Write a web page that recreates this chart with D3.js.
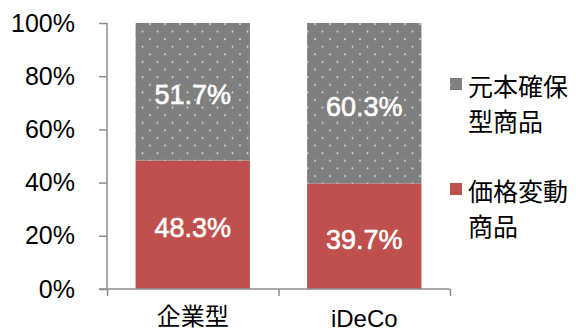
<!DOCTYPE html>
<html>
<head>
<meta charset="utf-8">
<script src="https://cdn.jsdelivr.net/npm/d3@7"></script>
<style>
  html, body { margin: 0; padding: 0; background: #fff; }
  svg { display: block; }
</style>
</head>
<body>
<svg id="chart" width="576" height="331"></svg>
<script>
// Share of assets by product type (percent)
const categories = ["企業型", "iDeCo"];
const principalGuaranteed = [51.7, 60.3]; // 元本確保型商品
const priceFluctuating = [48.3, 39.7];    // 価格変動商品
const yTicks = [0, 20, 40, 60, 80, 100];
const legendLabels = [["元本確保", "型商品"], ["価格変動", "商品"]];

const svg = d3.select("#chart");
const numFont = "'Liberation Sans', Arial, sans-serif";
const jpFont = "'Noto Sans CJK JP', 'Noto Sans', sans-serif";
const axisColor = "#8c8c8c";
const grayFill = "#7f7f7f";
const redFill = "#c0504d";

// Dotted fill used for the principal-guaranteed segment
const defs = svg.append("defs");
const pat = defs.append("pattern")
  .attr("id", "dots")
  .attr("patternUnits", "userSpaceOnUse")
  .attr("width", 15).attr("height", 15.2);
pat.append("rect").attr("width", 15).attr("height", 15.2).attr("fill", grayFill);
[[7.5, 1.2], [0, 8.8], [15, 8.8]].forEach(([cx, cy]) =>
  pat.append("circle").attr("cx", cx).attr("cy", cy).attr("r", 0.9).attr("fill", "#e0e0e0"));

const y = d3.scaleLinear().domain([0, 100]).range([289, 23]);
const x = d3.scaleBand().domain(categories).range([107, 450])
  .paddingInner(1 / 3).paddingOuter(1 / 6);

// Stack: price-fluctuating at the bottom, principal-guaranteed on top
const rows = categories.map((c, i) => ({
  cat: c,
  red: priceFluctuating[i],
  gray: principalGuaranteed[i]
}));
const stack = d3.stack().keys(["red", "gray"])(rows);

const fills = { red: redFill, gray: "url(#dots)" };
stack.forEach(layer => {
  svg.append("g").selectAll("rect")
    .data(layer)
    .join("rect")
    .attr("x", d => x(d.data.cat))
    .attr("width", x.bandwidth())
    .attr("y", d => y(d[1]))
    .attr("height", d => y(d[0]) - y(d[1]))
    .attr("fill", fills[layer.key]);

  svg.append("g").selectAll("text")
    .data(layer)
    .join("text")
    .attr("x", d => x(d.data.cat) + x.bandwidth() / 2)
    .attr("y", d => (y(d[0]) + y(d[1])) / 2 + 3)
    .attr("dy", "0.35em")
    .attr("text-anchor", "middle")
    .attr("fill", "#fff")
    .attr("stroke", "#fff")
    .attr("stroke-width", 0.6)
    .attr("font-family", numFont)
    .attr("font-size", 27)
    .text(d => d3.format(".1f")(d[1] - d[0]) + "%");
});

// Y axis
const yAxis = svg.append("g")
  .attr("transform", "translate(107,0)")
  .call(d3.axisLeft(y).tickValues(yTicks).tickSize(8).tickPadding(24)
    .tickFormat(d => d + "%"));
yAxis.select(".domain").attr("stroke", axisColor).attr("stroke-width", 1.5)
  .attr("d", `M0,${y(100)}V${y(0)}`);
yAxis.selectAll(".tick line").attr("stroke", axisColor).attr("stroke-width", 1.5);
yAxis.selectAll(".tick text")
  .attr("font-family", numFont).attr("font-size", 25).attr("fill", "#000");

// X axis with ticks at the category boundaries
const xb = d3.scaleLinear().domain([0, categories.length]).range([107, 450]);
const xAxis = svg.append("g")
  .attr("transform", `translate(0,${y(0)})`)
  .call(d3.axisBottom(xb).ticks(categories.length).tickSize(7).tickFormat(""));
xAxis.select(".domain").attr("stroke", axisColor).attr("stroke-width", 1.5)
  .attr("d", `M99,0H450`);
xAxis.selectAll(".tick line").attr("stroke", axisColor).attr("stroke-width", 1.5);

svg.append("g").selectAll("text")
  .data(categories)
  .join("text")
  .attr("x", d => x(d) + x.bandwidth() / 2)
  .attr("y", (d, i) => i === 0 ? 325 : 327)
  .attr("text-anchor", "middle")
  .attr("font-family", (d, i) => i === 0 ? jpFont : numFont)
  .attr("font-size", 24)
  .attr("fill", "#000")
  .text(d => d);

// Legend
const legendItems = [
  { fill: "url(#dots)", lines: legendLabels[0], top: 85 },
  { fill: redFill, lines: legendLabels[1], top: 190 }
];
legendItems.forEach(item => {
  svg.append("rect")
    .attr("x", 450).attr("y", item.top - 7)
    .attr("width", 12).attr("height", 12)
    .attr("fill", item.fill);
  item.lines.forEach((ln, j) => {
    svg.append("text")
      .attr("x", 468)
      .attr("y", item.top + j * 35)
      .attr("dominant-baseline", "central")
      .attr("font-family", jpFont)
      .attr("font-size", 25)
      .attr("fill", "#000")
      .text(ln);
  });
});
</script>
</body>
</html>
